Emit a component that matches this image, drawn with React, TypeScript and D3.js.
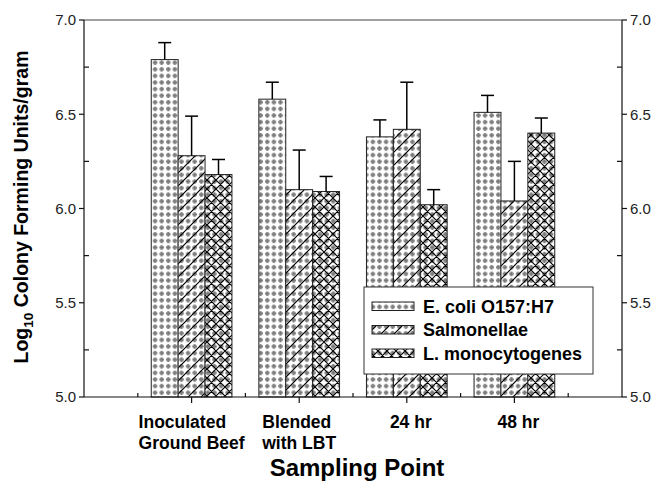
import * as d3 from "d3";
import { useRef, useEffect } from "react";

const categories = ["Inoculated\nGround Beef", "Blended\nwith LBT", "24 hr", "48 hr"];
const seriesNames = ["E. coli O157:H7", "Salmonellae", "L. monocytogenes"];
const ecoli = [6.79, 6.58, 6.38, 6.51];
const ecoliErr = [0.09, 0.09, 0.09, 0.09];
const salmonellae = [6.28, 6.1, 6.42, 6.04];
const salmonellaeErr = [0.21, 0.21, 0.25, 0.21];
const listeria = [6.18, 6.09, 6.02, 6.4];
const listeriaErr = [0.08, 0.08, 0.08, 0.08];
const yTicks = [5.0, 5.5, 6.0, 6.5, 7.0];
const yMinorTicks = [5.25, 5.75, 6.25, 6.75];

const W = 656;
const H = 482;
const FONT = "Arial, 'Liberation Sans', sans-serif";

const App = () => {
  const ref = useRef<SVGSVGElement>(null);

  useEffect(() => {
    const svg = d3.select(ref.current);
    svg.selectAll("*").remove();

    const left = 84, right = 622, top = 20, bottom = 397;
    const x = d3.scaleLinear().domain([0, 5]).range([left, right]);
    const y = d3.scaleLinear().domain([5, 7]).range([bottom, top]);
    const barW = 0.25;

    const defs = svg.append("defs");
    // gray stipple used by all three series
    const stip = defs.append("pattern").attr("id", "stip")
      .attr("patternUnits", "userSpaceOnUse").attr("width", 6.6).attr("height", 6.6);
    stip.append("rect").attr("width", 6.6).attr("height", 6.6).attr("fill", "#fff");
    stip.append("rect").attr("x", 1).attr("y", 2.2).attr("width", 4.6).attr("height", 2.1).attr("fill", "#7a7a7a");
    stip.append("rect").attr("x", 2.2).attr("y", 1).attr("width", 2.1).attr("height", 4.6).attr("fill", "#7a7a7a");

    const diag = defs.append("pattern").attr("id", "diag")
      .attr("patternUnits", "userSpaceOnUse").attr("width", 13).attr("height", 13);
    diag.append("path").attr("d", "M0,13L13,0M-2,2L2,-2M11,15L15,11")
      .attr("stroke", "#000").attr("stroke-width", 1.2);

    const cross = defs.append("pattern").attr("id", "cross")
      .attr("patternUnits", "userSpaceOnUse").attr("width", 9).attr("height", 9);
    cross.append("path").attr("d", "M0,9L9,0M-2,2L2,-2M7,11L11,7M0,0L9,9M-2,7L2,11M7,-2L11,2")
      .attr("stroke", "#000").attr("stroke-width", 1.1);

    const overlays = [null, "diag", "cross"];
    const series = [
      { vals: ecoli, errs: ecoliErr },
      { vals: salmonellae, errs: salmonellaeErr },
      { vals: listeria, errs: listeriaErr },
    ];

    // bars
    series.forEach((s, si) => {
      s.vals.forEach((v, ci) => {
        const x0 = x(ci + 1 - 1.5 * barW + si * barW);
        const x1 = x(ci + 1 - 1.5 * barW + (si + 1) * barW);
        const g = svg.append("g");
        g.append("rect").attr("x", x0).attr("y", y(v)).attr("width", x1 - x0)
          .attr("height", y(5) - y(v)).attr("fill", "url(#stip)");
        if (overlays[si]) {
          g.append("rect").attr("x", x0).attr("y", y(v)).attr("width", x1 - x0)
            .attr("height", y(5) - y(v)).attr("fill", `url(#${overlays[si]})`);
        }
        g.append("rect").attr("x", x0).attr("y", y(v)).attr("width", x1 - x0)
          .attr("height", y(5) - y(v)).attr("fill", "none")
          .attr("stroke", "#222").attr("stroke-width", 1);
        // error bar (upper only)
        const cx = (x0 + x1) / 2;
        const et = y(v + s.errs[ci]);
        g.append("line").attr("x1", cx).attr("x2", cx).attr("y1", y(v)).attr("y2", et)
          .attr("stroke", "#000").attr("stroke-width", 1.5);
        g.append("line").attr("x1", cx - 6.5).attr("x2", cx + 6.5).attr("y1", et).attr("y2", et)
          .attr("stroke", "#000").attr("stroke-width", 1.5);
      });
    });

    // frame
    const ax = svg.append("g").attr("stroke", "#111").attr("stroke-width", 1.2).attr("fill", "none");
    ax.append("line").attr("x1", left).attr("x2", right).attr("y1", top).attr("y2", top).attr("stroke", "#444");
    ax.append("line").attr("x1", left).attr("x2", right).attr("y1", bottom).attr("y2", bottom);
    ax.append("line").attr("x1", left).attr("x2", left).attr("y1", top).attr("y2", bottom);
    ax.append("line").attr("x1", right).attr("x2", right).attr("y1", top).attr("y2", bottom);

    yTicks.forEach(t => {
      ax.append("line").attr("x1", left - 5).attr("x2", left).attr("y1", y(t)).attr("y2", y(t));
      ax.append("line").attr("x1", right).attr("x2", right + 5).attr("y1", y(t)).attr("y2", y(t));
    });
    yMinorTicks.forEach(t => {
      ax.append("line").attr("x1", left).attr("x2", left + 5).attr("y1", y(t)).attr("y2", y(t));
      ax.append("line").attr("x1", right - 5).attr("x2", right).attr("y1", y(t)).attr("y2", y(t));
    });
    categories.forEach((c, i) => {
      ax.append("line").attr("x1", x(i + 1)).attr("x2", x(i + 1)).attr("y1", bottom).attr("y2", bottom + 6);
      ax.append("line").attr("x1", x(i + 0.5)).attr("x2", x(i + 0.5)).attr("y1", bottom).attr("y2", bottom - 4);
    });
    ax.append("line").attr("x1", x(4.5)).attr("x2", x(4.5)).attr("y1", bottom).attr("y2", bottom - 4);

    // tick labels
    const tl = svg.append("g").attr("font-family", FONT).attr("font-size", 15).attr("fill", "#222");
    yTicks.forEach(t => {
      tl.append("text").attr("x", left - 8).attr("y", y(t)).attr("dy", "0.35em")
        .attr("text-anchor", "end").text(d3.format(".1f")(t));
      tl.append("text").attr("x", right + 8).attr("y", y(t)).attr("dy", "0.35em")
        .attr("text-anchor", "start").text(d3.format(".1f")(t));
    });

    // category labels: lines left-aligned, block centred on the tick
    categories.forEach((c, i) => {
      const lines = c.split("\n");
      const t = svg.append("text").attr("font-family", FONT).attr("font-weight", "bold")
        .attr("font-size", 17.5).attr("fill", "#000");
      const spans = lines.map((ln, li) =>
        t.append("tspan").attr("y", 428 + li * 21).text(ln));
      const wMax = d3.max(spans, sp => (sp.node() as SVGTSpanElement).getComputedTextLength()) || 0;
      spans.forEach(sp => sp.attr("x", x(i + 1) - wMax / 2 + (lines.length === 1 ? 4 : 0)));
    });

    // axis titles
    svg.append("text").attr("x", 357).attr("y", 476).attr("text-anchor", "middle")
      .attr("font-family", FONT).attr("font-weight", "bold").attr("font-size", 24)
      .text("Sampling Point");

    const yt = svg.append("text").attr("transform", "translate(28,207) rotate(-90)")
      .attr("text-anchor", "middle").attr("font-family", FONT).attr("font-weight", "bold")
      .attr("font-size", 19.5);
    yt.append("tspan").text("Log");
    yt.append("tspan").attr("font-size", 13.5).attr("dy", 5).text("10");
    yt.append("tspan").attr("dy", -5).text(" Colony Forming Units/gram");

    // legend
    const lg = svg.append("g");
    lg.append("rect").attr("x", 364).attr("y", 287).attr("width", 229).attr("height", 87)
      .attr("fill", "#fff").attr("stroke", "#333").attr("stroke-width", 1);
    seriesNames.forEach((n, i) => {
      const yy = 302 + i * 23.5;
      lg.append("rect").attr("x", 372).attr("y", yy).attr("width", 42).attr("height", 8.5)
        .attr("fill", "url(#stip)");
      if (overlays[i]) {
        lg.append("rect").attr("x", 372).attr("y", yy).attr("width", 42).attr("height", 8.5)
          .attr("fill", `url(#${overlays[i]})`);
      }
      lg.append("rect").attr("x", 372).attr("y", yy).attr("width", 42).attr("height", 8.5)
        .attr("fill", "none").attr("stroke", "#222").attr("stroke-width", 1);
      lg.append("text").attr("x", 423).attr("y", yy + 4.25).attr("dy", "0.36em")
        .attr("font-family", FONT).attr("font-weight", "bold").attr("font-size", 18)
        .text(n);
    });
  }, []);

  return (
    <div style={{ position: "absolute", left: 0, top: 0 }}>
      <svg ref={ref} width={W} height={H} style={{ display: "block", background: "#fff" }} />
    </div>
  );
};

export default App;
